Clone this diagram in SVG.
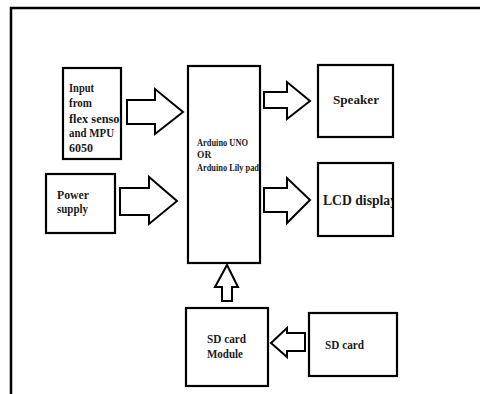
<svg xmlns="http://www.w3.org/2000/svg" width="480" height="394" viewBox="0 0 480 394">
<style>
.box{fill:#fff;stroke:#000;stroke-width:2.2}
.arr{fill:#fff;stroke:#000;stroke-width:2;stroke-linejoin:miter}
.t{font-family:"Liberation Serif","Times New Roman",serif;font-weight:bold;fill:#1a1a1a}
.frame{stroke:#000;stroke-width:2.5;fill:none}
</style>
<defs>
<clipPath id="clipIn"><rect x="64" y="69" width="57" height="89"/></clipPath>
<clipPath id="clipLcd"><rect x="319" y="164" width="73" height="71"/></clipPath>
</defs>
<rect width="480" height="394" fill="#fff"/>
<path class="frame" d="M11,394 V8 H480"/>
<g id="connectors">
<polygon class="arr" points="127,100 155,100 155,89 183,112 155,134 155,124 127,124"/>
<polygon class="arr" points="120,188 149,188 149,177 177,201 149,224 149,215 120,215"/>
<polygon class="arr" points="264,92 287,92 287,82 310,101 287,119 287,108 264,108"/>
<polygon class="arr" points="264,188 287,188 287,178 310,200 287,223 287,212 264,212"/>
<polygon class="arr" points="222,301 222,287 215,287 227,265 238,287 232,287 232,301"/>
<polygon class="arr" points="305,333 287,333 287,328 271,343 287,357 287,351 305,351"/>
</g>
<g id="input">
<rect class="box" x="63" y="68" width="58" height="91"/>
<g clip-path="url(#clipIn)">
<text class="t" font-size="12.5" x="69" y="92" textLength="25" lengthAdjust="spacingAndGlyphs">Input</text>
<text class="t" font-size="12.5" x="69" y="107" textLength="23" lengthAdjust="spacingAndGlyphs">from</text>
<text class="t" font-size="12.5" x="69" y="123" textLength="56" lengthAdjust="spacingAndGlyphs">flex sensor</text>
<text class="t" font-size="12.5" x="69" y="137" textLength="45" lengthAdjust="spacingAndGlyphs">and MPU</text>
<text class="t" font-size="12.5" x="69" y="152" textLength="24" lengthAdjust="spacingAndGlyphs">6050</text>
</g>
</g>
<g id="power">
<rect class="box" x="46" y="174" width="69" height="59"/>
<text class="t" font-size="13" x="57" y="199" textLength="32" lengthAdjust="spacingAndGlyphs">Power</text>
<text class="t" font-size="13" x="57" y="213" textLength="31" lengthAdjust="spacingAndGlyphs">supply</text>
</g>
<g id="arduino">
<rect class="box" x="188" y="66" width="72" height="197"/>
<text class="t" font-size="9.5" x="197" y="146" textLength="51" lengthAdjust="spacingAndGlyphs">Arduino UNO</text>
<text class="t" font-size="9.5" x="197" y="158">OR</text>
<text class="t" font-size="9.5" x="197" y="171" textLength="62" lengthAdjust="spacingAndGlyphs">Arduino Lily pad</text>
</g>
<g id="speaker">
<rect class="box" x="318" y="65" width="75" height="72"/>
<text class="t" font-size="13.5" x="333" y="104" textLength="46" lengthAdjust="spacingAndGlyphs">Speaker</text>
</g>
<g id="lcd">
<rect class="box" x="318" y="163" width="75" height="73"/>
<g clip-path="url(#clipLcd)">
<text class="t" font-size="14" x="323" y="205" textLength="74" lengthAdjust="spacingAndGlyphs">LCD display</text>
</g>
</g>
<g id="sdmodule">
<rect class="box" x="186" y="308" width="82" height="78"/>
<text class="t" font-size="12.5" x="207" y="343" textLength="39" lengthAdjust="spacingAndGlyphs">SD card</text>
<text class="t" font-size="12.5" x="207" y="358" textLength="36" lengthAdjust="spacingAndGlyphs">Module</text>
</g>
<g id="sdcard">
<rect class="box" x="309" y="313" width="88" height="63"/>
<text class="t" font-size="12.5" x="325" y="349" textLength="39" lengthAdjust="spacingAndGlyphs">SD card</text>
</g>
</svg>
